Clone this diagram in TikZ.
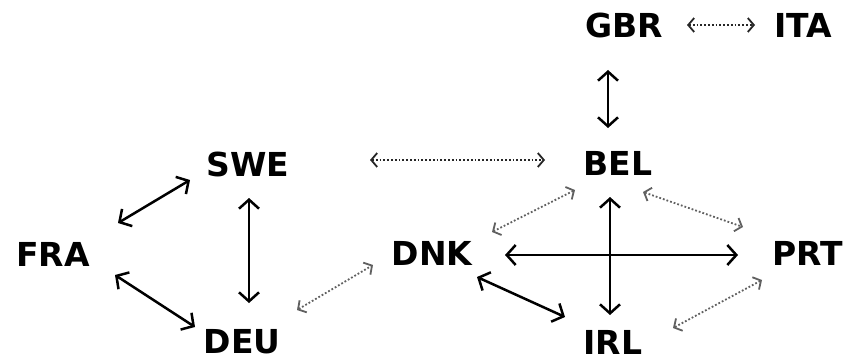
\documentclass[tikz,border=0pt]{standalone}
\usepackage{fontspec}
\setmainfont{DejaVu Sans}
\usetikzlibrary{arrows.meta}
\begin{document}
\begin{tikzpicture}[x=1pt,y=-1pt,
  country/.style={inner sep=0pt,anchor=center,font=\fontsize{33}{36}\selectfont\bfseries},
  strong/.style={line width=2.5pt,black,{Straight Barb[length=9pt,width=20pt,line width=2.5pt]}-{Straight Barb[length=9pt,width=20pt,line width=2.5pt]}},
  weak/.style={line width=1.8pt,black!85,dotted,{Straight Barb[length=6pt,width=14pt,line width=1.8pt]}-{Straight Barb[length=6pt,width=14pt,line width=1.8pt]}},
  weakg/.style={weak,gray!75!black}]
\useasboundingbox (0,0) rectangle (851,361);
\node[country] (gbr) at (624,25) {GBR};
\node[country] (ita) at (803,25) {ITA};
\node[country] (bel) at (618,163) {BEL};
\node[country] (swe) at (248,164) {SWE};
\node[country] (fra) at (53,254) {FRA};
\node[country] (dnk) at (432,253) {DNK};
\node[country] (prt) at (808,253) {PRT};
\node[country] (deu) at (242,342) {DEU};
\node[country] (irl) at (613,342) {IRL};
\draw[weak] ([shift={(63,0)}]gbr.center) -- ([shift={(-48,0)}]ita.center);
\draw[strong] ([shift={(-16,45)}]gbr.center) -- ([shift={(-10,-35)}]bel.center);
\draw[weak] ([shift={(122,-4)}]swe.center) -- ([shift={(-73,-3)}]bel.center);
\draw[strong] ([shift={(-58,16)}]swe.center) -- ([shift={(65,-31)}]fra.center);
\draw[strong] ([shift={(1,34)}]swe.center) -- ([shift={(7,-39)}]deu.center);
\draw[strong] ([shift={(62,21)}]fra.center) -- ([shift={(-47,-15)}]deu.center);
\draw[weakg] ([shift={(55,-32)}]deu.center) -- ([shift={(-59,12)}]dnk.center);
\draw[weakg] ([shift={(-43,27)}]bel.center) -- ([shift={(60,-21)}]dnk.center);
\draw[strong] ([shift={(-8,34)}]bel.center) -- ([shift={(-3,-27)}]irl.center);
\draw[strong] ([shift={(73,2)}]dnk.center) -- ([shift={(-70,2)}]prt.center);
\draw[weakg] ([shift={(25,29)}]bel.center) -- ([shift={(-65,-26)}]prt.center);
\draw[strong] ([shift={(45,24)}]dnk.center) -- ([shift={(-48,-25)}]irl.center);
\draw[weakg] ([shift={(-46,27)}]prt.center) -- ([shift={(60,-14)}]irl.center);
\end{tikzpicture}
\end{document}
